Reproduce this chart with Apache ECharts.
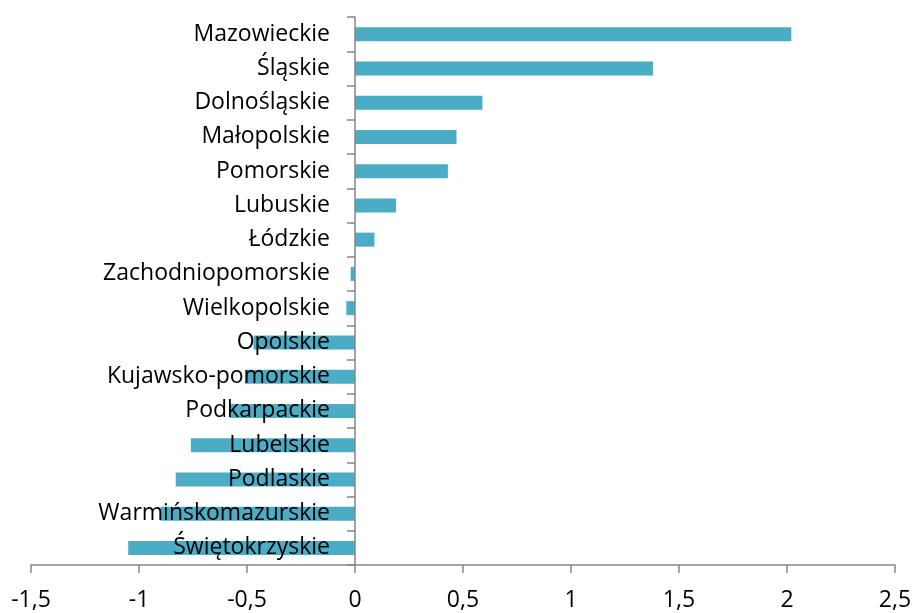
<!DOCTYPE html>
<html>
<head>
<meta charset="utf-8">
<script src="https://cdn.jsdelivr.net/npm/echarts@6/dist/echarts.min.js"></script>
<style>
  html, body { margin: 0; padding: 0; background: #fff; }
  #wykres { width: 912px; height: 613px; }
</style>
</head>
<body>
<div id="wykres"></div>
<script>
// wojewodztwa, od gory
var categories = ['Mazowieckie', 'Śląskie', 'Dolnośląskie', 'Małopolskie', 'Pomorskie', 'Lubuskie', 'Łódzkie',
    'Zachodniopomorskie', 'Wielkopolskie', 'Opolskie', 'Kujawsko-pomorskie', 'Podkarpackie', 'Lubelskie',
    'Podlaskie', 'Warmińskomazurskie', 'Świętokrzyskie'];
var values = [2.02, 1.38, 0.59, 0.47, 0.43, 0.19, 0.09, -0.02, -0.04, -0.47, -0.51, -0.58, -0.76, -0.83, -0.90, -1.05];
var xTicks = [-1.5, -1, -0.5, 0, 0.5, 1, 1.5, 2, 2.5];

var chart = echarts.init(document.getElementById('wykres'));
var font = 'Open Sans';
var gridLeft = 31, gridRight = 17;
var xMin = xTicks[0], xMax = xTicks[xTicks.length - 1];
// os kategorii stoi na zerze razem z opisami
var zeroOffset = (0 - xMin) / (xMax - xMin) * (912 - gridLeft - gridRight);

var option = {
    animation: false,
    grid: {
        left: gridLeft,
        right: gridRight,
        top: 17,
        bottom: 48,
        containLabel: false,
        outerBoundsMode: 'none'
    },
    xAxis: {
        type: 'value',
        min: xMin,
        max: xMax,
        interval: 0.5,
        axisLine: { show: true, lineStyle: { color: '#868686', width: 1.5 } },
        axisTick: { show: true, length: 8, lineStyle: { color: '#868686', width: 1.5 } },
        splitLine: { show: false },
        axisLabel: {
            color: '#000',
            fontFamily: font,
            fontSize: 23,
            margin: 24,
            formatter: function (v) { return String(v).replace('.', ','); }
        }
    },
    yAxis: {
        type: 'category',
        inverse: true,
        data: categories,
        offset: -zeroOffset,
        z: 10,
        axisLine: { show: true, onZero: false, lineStyle: { color: '#868686', width: 1.5 } },
        axisTick: { show: true, length: 8, lineStyle: { color: '#868686', width: 1.5 } },
        axisLabel: {
            color: '#000',
            fontFamily: font,
            fontSize: 23,
            margin: 25,
            padding: [4, 0, 0, 0]
        }
    },
    series: [{
        type: 'bar',
        data: values,
        barWidth: 14,
        z: 2,
        itemStyle: { color: '#4BACC6' }
    }]
};
if (option && typeof option === "object") {
    chart.setOption(option, true);
}
</script>
</body>
</html>
